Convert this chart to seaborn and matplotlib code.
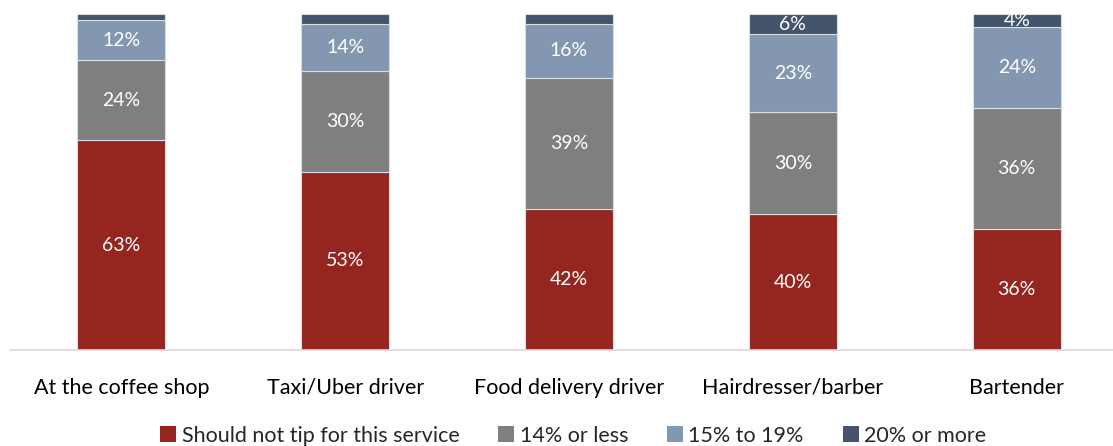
import matplotlib
matplotlib.use("Agg")
import matplotlib.pyplot as plt
from matplotlib.patches import Patch
import seaborn as sns
import numpy as np

categories = ["At the coffee shop", "Taxi/Uber driver", "Food delivery driver",
              "Hairdresser/barber", "Bartender"]
no_tip = [63, 53, 42, 40, 36]
tip_14_or_less = [24, 30, 39, 30, 36]
tip_15_to_19 = [12, 14, 16, 23, 24]
tip_20_or_more = [2, 3, 3, 6, 4]

series_names = ["Should not tip for this service", "14% or less", "15% to 19%", "20% or more"]
series_values = [no_tip, tip_14_or_less, tip_15_to_19, tip_20_or_more]
series_colors = ["#95261F", "#7F7F7F", "#8497B0", "#44546A"]
# which segments carry a value label
show_labels = [
    [True] * 5,
    [True] * 5,
    [True] * 5,
    [False, False, False, True, True],
]

sns.set_theme(style="white")
plt.rcParams["font.family"] = ["Lato", "DejaVu Sans"]

fig = plt.figure(figsize=(11.13, 4.46), dpi=100)
ax = fig.add_axes([0.009, 0.215, 0.991, 0.754])

# 100% stacked columns: each column is scaled to its own total
totals = np.sum(np.array(series_values, dtype=float), axis=0)
bottom = np.zeros(len(categories))
for i, (name, vals, col) in enumerate(zip(series_names, series_values, series_colors)):
    raw = np.array(vals, dtype=float)
    share = raw / totals * 100
    sns.barplot(x=categories, y=share, bottom=bottom, color=col, width=0.395,
                edgecolor="#D9DEE6", linewidth=0.8, ax=ax, saturation=1)
    for j, v in enumerate(raw):
        if show_labels[i][j]:
            ax.text(j, bottom[j] + share[j] / 2, f"{int(v)}%", ha="center", va="center",
                    color="white", fontsize=14)
    bottom += share

ax.set_xlim(-0.497, 4.43)
ax.set_ylim(0, 100)
ax.set_yticks([])
ax.set_ylabel("")
for s in ["top", "right", "left"]:
    ax.spines[s].set_visible(False)
ax.spines["bottom"].set_color("#D9D9D9")
ax.spines["bottom"].set_linewidth(1.2)
ax.tick_params(axis="x", length=0, pad=20, labelsize=15.5, labelcolor="#000000")

handles = [Patch(facecolor=c, edgecolor="none") for c in series_colors]
fig.legend(handles, series_names, loc="center", bbox_to_anchor=(0.515, 0.023),
           ncol=4, frameon=False, fontsize=15.5, handlelength=0.75, handleheight=0.75,
           handletextpad=0.25, columnspacing=1.8)

fig.savefig("out.png", dpi=100)
